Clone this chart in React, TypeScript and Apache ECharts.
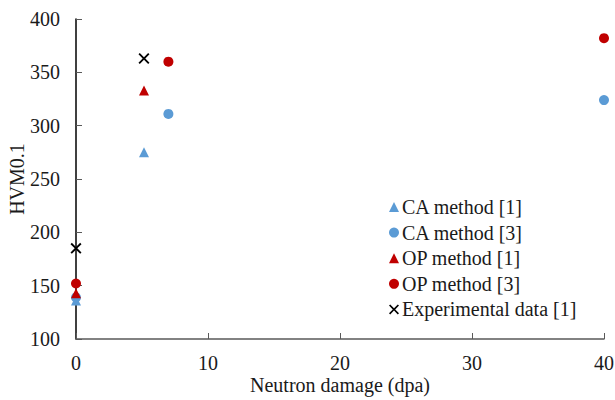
import React, { useEffect, useRef } from "react";
import * as echarts from "echarts";

const caMethod1: [number, number][] = [[0, 136], [5.15, 275]];
const caMethod3: [number, number][] = [[0, 139], [7, 311], [40, 324]];
const opMethod1: [number, number][] = [[0, 143], [5.15, 333]];
const opMethod3: [number, number][] = [[0, 152], [7, 360], [40, 382]];
const experimental1: [number, number][] = [[0, 185], [5.15, 363]];

const seriesNames = ["CA method [1]", "CA method [3]", "OP method [1]", "OP method [3]", "Experimental data [1]"];

const BLUE = "#5B9BD5";
const RED = "#C00000";
const FONT = "Liberation Serif";
const CROSS = "path://M0,1.2L1.2,0L5,3.8L8.8,0L10,1.2L6.2,5L10,8.8L8.8,10L5,6.2L1.2,10L0,8.8L3.8,5Z";

export default function App() {
  const ref = useRef<HTMLDivElement>(null);
  useEffect(() => {
    if (!ref.current) return;
    const chart = echarts.init(ref.current, undefined, { renderer: "svg" });
    chart.setOption({
      animation: false,
      backgroundColor: "#fff",
      textStyle: { fontFamily: FONT },
      grid: { left: 76, right: 11, top: 19, bottom: 61, containLabel: false, outerBoundsMode: "none" },
      xAxis: {
        type: "value",
        min: 0,
        max: 40,
        interval: 10,
        name: "Neutron damage (dpa)",
        nameLocation: "middle",
        nameGap: 36,
        nameMoveOverlap: false,
        nameTextStyle: { fontFamily: FONT, fontSize: 20, color: "#1a1a1a" },
        axisLine: { show: true, lineStyle: { color: "#595959", width: 1.5 } },
        axisTick: { show: true, inside: true, length: 6, lineStyle: { color: "#595959" } },
        axisLabel: { fontFamily: FONT, fontSize: 20, color: "#1a1a1a", margin: 14 },
        splitLine: { show: false },
      },
      yAxis: {
        type: "value",
        min: 100,
        max: 400,
        interval: 50,
        name: "HVM0.1",
        nameLocation: "middle",
        nameGap: 49,
        nameMoveOverlap: false,
        nameTextStyle: { fontFamily: FONT, fontSize: 20, color: "#1a1a1a" },
        axisLine: { show: true, lineStyle: { color: "#000", width: 1.5 } },
        axisTick: { show: true, inside: true, length: 6, lineStyle: { color: "#595959" } },
        axisLabel: { fontFamily: FONT, fontSize: 20, color: "#1a1a1a", margin: 16 },
        splitLine: { show: false },
      },
      legend: {
        orient: "vertical",
        left: 384,
        top: 192,
        itemWidth: 10,
        itemHeight: 10,
        itemGap: 5.6,
        textStyle: { fontFamily: FONT, fontSize: 20, color: "#1a1a1a", padding: [0, 0, 0, -2] },
        data: [
          { name: seriesNames[0], icon: "triangle" },
          { name: seriesNames[1], icon: "circle" },
          { name: seriesNames[2], icon: "triangle" },
          { name: seriesNames[3], icon: "circle" },
          { name: seriesNames[4], icon: CROSS },
        ],
      },
      series: [
        { name: seriesNames[0], type: "scatter", symbol: "triangle", symbolSize: 10, itemStyle: { color: BLUE, opacity: 1 }, data: caMethod1 },
        { name: seriesNames[1], type: "scatter", symbol: "circle", symbolSize: 10, itemStyle: { color: BLUE, opacity: 1 }, data: caMethod3 },
        { name: seriesNames[2], type: "scatter", symbol: "triangle", symbolSize: 10, itemStyle: { color: RED, opacity: 1 }, data: opMethod1 },
        { name: seriesNames[3], type: "scatter", symbol: "circle", symbolSize: 10, itemStyle: { color: RED, opacity: 1 }, data: opMethod3 },
        { name: seriesNames[4], type: "scatter", symbol: CROSS, symbolSize: 11, itemStyle: { color: "#000", opacity: 1 }, data: experimental1 },
      ],
    });
    return () => chart.dispose();
  }, []);
  return <div ref={ref} style={{ width: 615, height: 400, position: "absolute", left: 0, top: 0 }} />;
}
